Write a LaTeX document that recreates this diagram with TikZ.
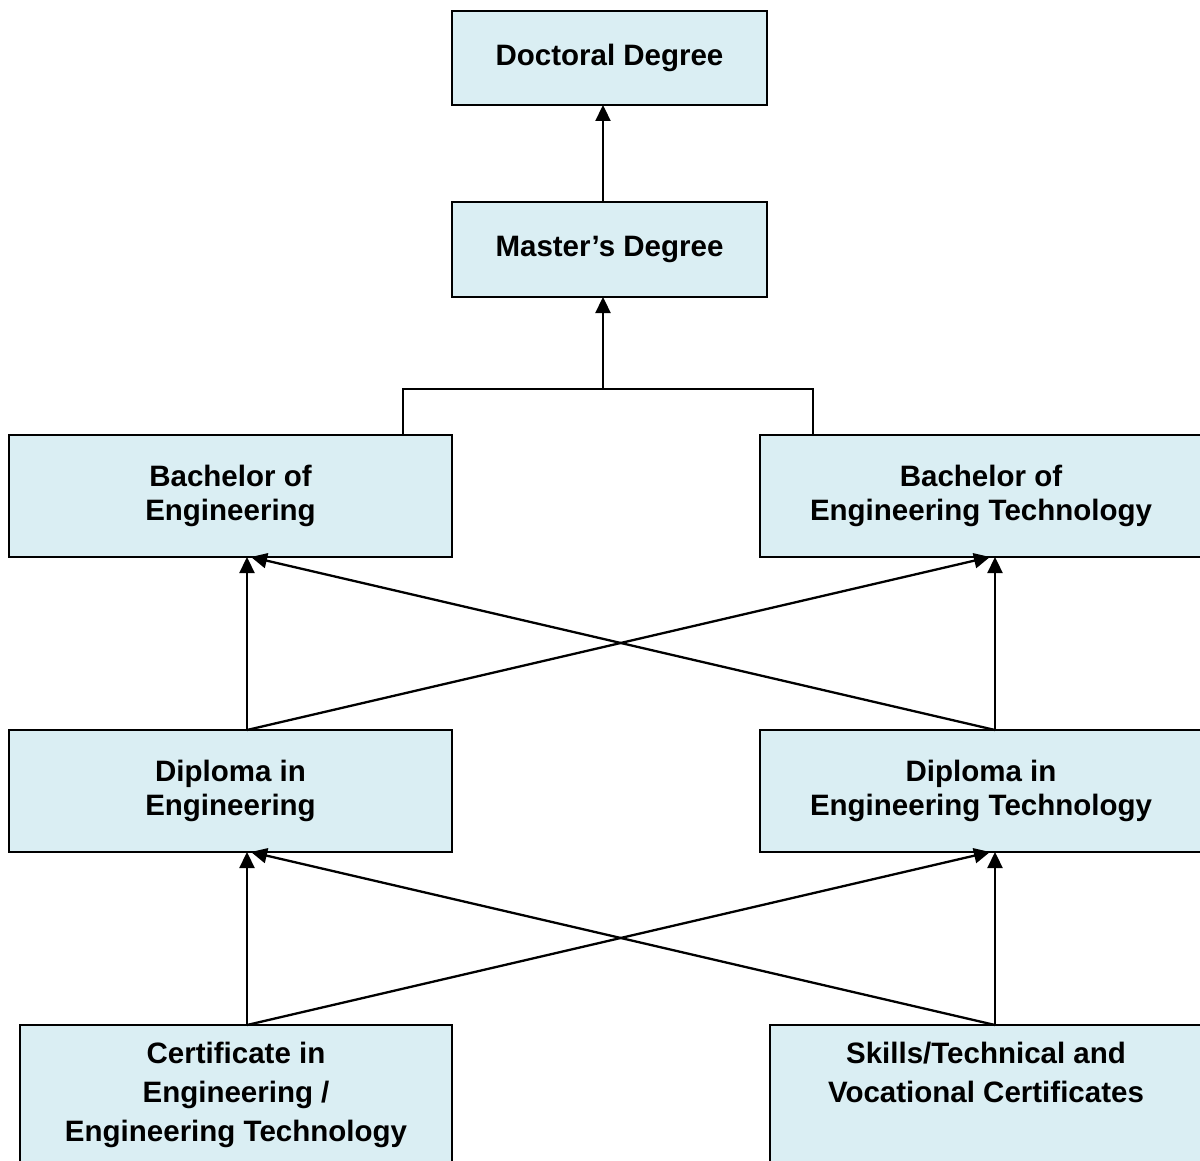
\documentclass[tikz,border=0pt]{standalone}
\usepackage{fontspec}
\setmainfont{Liberation Sans}
\usetikzlibrary{arrows.meta}
\definecolor{boxfill}{HTML}{DAEEF3}
\begin{document}
\begin{tikzpicture}[x=1pt,y=-1pt,
 boxnode/.style={draw=black, line width=1.7pt, fill=boxfill, inner sep=0pt, outer sep=0pt, align=center, font=\fontsize{29.5}{34}\selectfont\bfseries},
 txtnode/.style={inner sep=0pt, align=center, font=\fontsize{29.5}{39}\selectfont\bfseries},
 arr/.style={line width=2.3pt, -{Triangle[length=16pt,width=15pt]}},
 bracket/.style={line width=1.4pt}]
\useasboundingbox (0,0) rectangle (1200,1161);
\clip (0,0) rectangle (1200,1161);
\fill[white] (0,0) rectangle (1200,1161);
% boxes
\node[boxnode, minimum width=315pt, minimum height=94pt] (doc) at (609.5,58) {Doctoral Degree};
\node[boxnode, minimum width=315pt, minimum height=95pt] (ma) at (609.5,249.5) {Master’s Degree};
\node[boxnode, minimum width=443pt, minimum height=122pt] (be) at (230.5,496) {Bachelor of\\Engineering};
\node[boxnode, minimum width=442pt, minimum height=122pt] (bet) at (981,496) {Bachelor of\\Engineering Technology};
\node[boxnode, minimum width=443pt, minimum height=122pt] (de) at (230.5,791) {Diploma in\\Engineering};
\node[boxnode, minimum width=442pt, minimum height=122pt] (det) at (981,791) {Diploma in\\Engineering Technology};
\node[boxnode, minimum width=432pt, minimum height=170pt] (cert) at (236,1110) {};
\node[boxnode, minimum width=432pt, minimum height=170pt] (sk) at (986,1110) {};
\node[txtnode] (certtxt) at (236,1095) {Certificate in\\Engineering /\\Engineering Technology};
\node[txtnode] (sktxt) at (986,1072.5) {Skills/Technical and\\Vocational Certificates};
% top connectors
\draw[arr] ([xshift=-6.5pt]ma.north) -- ([xshift=-6.5pt]doc.south);
\coordinate (join) at (603,389);
\draw[bracket] ([xshift=394pt]be.north west) |- (join) -| ([xshift=53pt]bet.north west);
\draw[arr] (join) -- ([xshift=-6.5pt]ma.south);
% diploma -> bachelor
\draw[arr] ([xshift=238pt]de.north west) -- ([xshift=238pt]be.south west);
\draw[arr] ([xshift=238pt]de.north west) -- ([xshift=230pt]bet.south west);
\draw[arr] ([xshift=235pt]det.north west) -- ([xshift=242pt]be.south west);
\draw[arr] ([xshift=235pt]det.north west) -- ([xshift=235pt]bet.south west);
% certificate -> diploma
\draw[arr] ([xshift=227pt]cert.north west) -- ([xshift=238pt]de.south west);
\draw[arr] ([xshift=227pt]cert.north west) -- ([xshift=230pt]det.south west);
\draw[arr] ([xshift=225pt]sk.north west) -- ([xshift=242pt]de.south west);
\draw[arr] ([xshift=225pt]sk.north west) -- ([xshift=235pt]det.south west);
\end{tikzpicture}
\end{document}
